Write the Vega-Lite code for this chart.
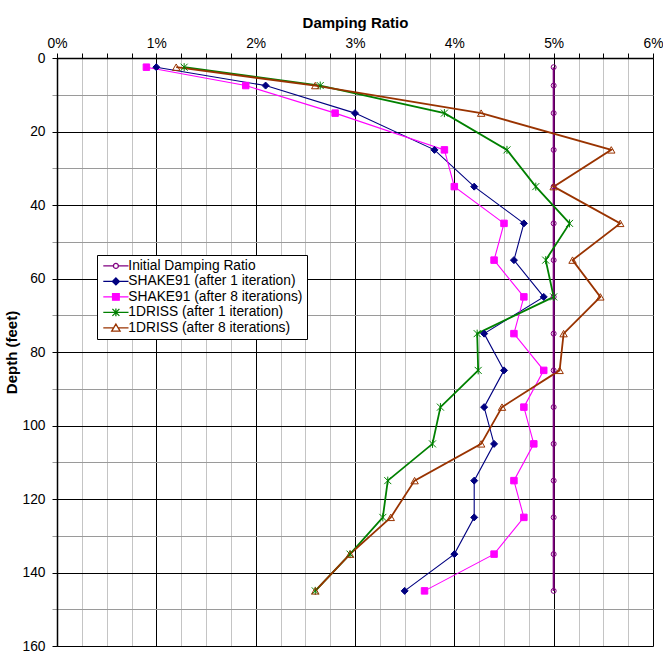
{
  "$schema": "https://vega.github.io/schema/vega-lite/v6.json",
  "width": 596,
  "height": 588,
  "autosize": {"type": "none"},
  "padding": {"left": 57, "top": 58, "right": 10, "bottom": 8},
  "background": "white",
  "config": {
    "font": "Liberation Sans",
    "view": {"stroke": null},
    "axis": {"labelFont": "Liberation Sans", "titleFont": "Liberation Sans", "labelColor": "black", "titleColor": "black"}
  },
  "data": {
    "values": [
      {"series": "Initial Damping Ratio", "depth": 2.5, "ratio": 5},
      {"series": "Initial Damping Ratio", "depth": 7.5, "ratio": 5},
      {"series": "Initial Damping Ratio", "depth": 15, "ratio": 5},
      {"series": "Initial Damping Ratio", "depth": 25, "ratio": 5},
      {"series": "Initial Damping Ratio", "depth": 35, "ratio": 5},
      {"series": "Initial Damping Ratio", "depth": 45, "ratio": 5},
      {"series": "Initial Damping Ratio", "depth": 55, "ratio": 5},
      {"series": "Initial Damping Ratio", "depth": 65, "ratio": 5},
      {"series": "Initial Damping Ratio", "depth": 75, "ratio": 5},
      {"series": "Initial Damping Ratio", "depth": 85, "ratio": 5},
      {"series": "Initial Damping Ratio", "depth": 95, "ratio": 5},
      {"series": "Initial Damping Ratio", "depth": 105, "ratio": 5},
      {"series": "Initial Damping Ratio", "depth": 115, "ratio": 5},
      {"series": "Initial Damping Ratio", "depth": 125, "ratio": 5},
      {"series": "Initial Damping Ratio", "depth": 135, "ratio": 5},
      {"series": "Initial Damping Ratio", "depth": 145, "ratio": 5},
      {"series": "SHAKE91 (after 1 iteration)", "depth": 2.5, "ratio": 1.0},
      {"series": "SHAKE91 (after 1 iteration)", "depth": 7.5, "ratio": 2.1},
      {"series": "SHAKE91 (after 1 iteration)", "depth": 15, "ratio": 3.0},
      {"series": "SHAKE91 (after 1 iteration)", "depth": 25, "ratio": 3.8},
      {"series": "SHAKE91 (after 1 iteration)", "depth": 35, "ratio": 4.2},
      {"series": "SHAKE91 (after 1 iteration)", "depth": 45, "ratio": 4.7},
      {"series": "SHAKE91 (after 1 iteration)", "depth": 55, "ratio": 4.6},
      {"series": "SHAKE91 (after 1 iteration)", "depth": 65, "ratio": 4.9},
      {"series": "SHAKE91 (after 1 iteration)", "depth": 75, "ratio": 4.3},
      {"series": "SHAKE91 (after 1 iteration)", "depth": 85, "ratio": 4.5},
      {"series": "SHAKE91 (after 1 iteration)", "depth": 95, "ratio": 4.3},
      {"series": "SHAKE91 (after 1 iteration)", "depth": 105, "ratio": 4.4},
      {"series": "SHAKE91 (after 1 iteration)", "depth": 115, "ratio": 4.2},
      {"series": "SHAKE91 (after 1 iteration)", "depth": 125, "ratio": 4.2},
      {"series": "SHAKE91 (after 1 iteration)", "depth": 135, "ratio": 4.0},
      {"series": "SHAKE91 (after 1 iteration)", "depth": 145, "ratio": 3.5},
      {"series": "SHAKE91 (after 8 iterations)", "depth": 2.5, "ratio": 0.9},
      {"series": "SHAKE91 (after 8 iterations)", "depth": 7.5, "ratio": 1.9},
      {"series": "SHAKE91 (after 8 iterations)", "depth": 15, "ratio": 2.8},
      {"series": "SHAKE91 (after 8 iterations)", "depth": 25, "ratio": 3.9},
      {"series": "SHAKE91 (after 8 iterations)", "depth": 35, "ratio": 4.0},
      {"series": "SHAKE91 (after 8 iterations)", "depth": 45, "ratio": 4.5},
      {"series": "SHAKE91 (after 8 iterations)", "depth": 55, "ratio": 4.4},
      {"series": "SHAKE91 (after 8 iterations)", "depth": 65, "ratio": 4.7},
      {"series": "SHAKE91 (after 8 iterations)", "depth": 75, "ratio": 4.6},
      {"series": "SHAKE91 (after 8 iterations)", "depth": 85, "ratio": 4.9},
      {"series": "SHAKE91 (after 8 iterations)", "depth": 95, "ratio": 4.7},
      {"series": "SHAKE91 (after 8 iterations)", "depth": 105, "ratio": 4.8},
      {"series": "SHAKE91 (after 8 iterations)", "depth": 115, "ratio": 4.6},
      {"series": "SHAKE91 (after 8 iterations)", "depth": 125, "ratio": 4.7},
      {"series": "SHAKE91 (after 8 iterations)", "depth": 135, "ratio": 4.4},
      {"series": "SHAKE91 (after 8 iterations)", "depth": 145, "ratio": 3.7},
      {"series": "1DRISS (after 1 iteration)", "depth": 2.5, "ratio": 1.28},
      {"series": "1DRISS (after 1 iteration)", "depth": 7.5, "ratio": 2.65},
      {"series": "1DRISS (after 1 iteration)", "depth": 15, "ratio": 3.9},
      {"series": "1DRISS (after 1 iteration)", "depth": 25, "ratio": 4.53},
      {"series": "1DRISS (after 1 iteration)", "depth": 35, "ratio": 4.82},
      {"series": "1DRISS (after 1 iteration)", "depth": 45, "ratio": 5.16},
      {"series": "1DRISS (after 1 iteration)", "depth": 55, "ratio": 4.92},
      {"series": "1DRISS (after 1 iteration)", "depth": 65, "ratio": 5.0},
      {"series": "1DRISS (after 1 iteration)", "depth": 75, "ratio": 4.23},
      {"series": "1DRISS (after 1 iteration)", "depth": 85, "ratio": 4.24},
      {"series": "1DRISS (after 1 iteration)", "depth": 95, "ratio": 3.86},
      {"series": "1DRISS (after 1 iteration)", "depth": 105, "ratio": 3.78},
      {"series": "1DRISS (after 1 iteration)", "depth": 115, "ratio": 3.33},
      {"series": "1DRISS (after 1 iteration)", "depth": 125, "ratio": 3.28},
      {"series": "1DRISS (after 1 iteration)", "depth": 135, "ratio": 2.95},
      {"series": "1DRISS (after 1 iteration)", "depth": 145, "ratio": 2.6},
      {"series": "1DRISS (after 8 iterations)", "depth": 2.5, "ratio": 1.2},
      {"series": "1DRISS (after 8 iterations)", "depth": 7.5, "ratio": 2.6},
      {"series": "1DRISS (after 8 iterations)", "depth": 15, "ratio": 4.27},
      {"series": "1DRISS (after 8 iterations)", "depth": 25, "ratio": 5.58},
      {"series": "1DRISS (after 8 iterations)", "depth": 35, "ratio": 5.0},
      {"series": "1DRISS (after 8 iterations)", "depth": 45, "ratio": 5.67},
      {"series": "1DRISS (after 8 iterations)", "depth": 55, "ratio": 5.19},
      {"series": "1DRISS (after 8 iterations)", "depth": 65, "ratio": 5.47},
      {"series": "1DRISS (after 8 iterations)", "depth": 75, "ratio": 5.1},
      {"series": "1DRISS (after 8 iterations)", "depth": 85, "ratio": 5.06},
      {"series": "1DRISS (after 8 iterations)", "depth": 95, "ratio": 4.48},
      {"series": "1DRISS (after 8 iterations)", "depth": 105, "ratio": 4.27},
      {"series": "1DRISS (after 8 iterations)", "depth": 115, "ratio": 3.6},
      {"series": "1DRISS (after 8 iterations)", "depth": 125, "ratio": 3.36},
      {"series": "1DRISS (after 8 iterations)", "depth": 135, "ratio": 2.95},
      {"series": "1DRISS (after 8 iterations)", "depth": 145, "ratio": 2.6}
    ]
  },
  "encoding": {
    "x": {
      "field": "ratio",
      "type": "quantitative",
      "scale": {"domain": [0, 6], "nice": false, "zero": false},
      "axis": {
        "orient": "top",
        "title": "Damping Ratio",
        "titleFontSize": 15,
        "titleFontWeight": "bold",
        "titlePadding": 6,
        "values": [0, 0.25, 0.5, 0.75, 1, 1.25, 1.5, 1.75, 2, 2.25, 2.5, 2.75, 3, 3.25, 3.5, 3.75, 4, 4.25, 4.5, 4.75, 5, 5.25, 5.5, 5.75, 6],
        "labelExpr": "datum.value % 1 === 0 ? datum.value + '%' : ''",
        "labelFontSize": 13.8,
        "labelPadding": 3,
        "labelFlush": false,
        "labelOverlap": false,
        "tickSize": 5,
        "tickColor": "black",
        "domainColor": "black",
        "domainWidth": 1.5,
        "gridColor": {"condition": {"test": "datum.value % 1 === 0", "value": "#000000"}, "value": "#c4c4c4"},
        "gridWidth": 1,
        "gridOpacity": 1
      }
    },
    "y": {
      "field": "depth",
      "type": "quantitative",
      "scale": {"domain": [0, 160], "reverse": true, "nice": false, "zero": false},
      "axis": {
        "title": "Depth (feet)",
        "titleFontSize": 15,
        "titleFontWeight": "bold",
        "titlePadding": 2,
        "values": [0, 10, 20, 30, 40, 50, 60, 70, 80, 90, 100, 110, 120, 130, 140, 150, 160],
        "labelExpr": "datum.value % 20 === 0 ? datum.value : ''",
        "labelFontSize": 13.8,
        "labelPadding": 7,
        "labelFlush": false,
        "labelOverlap": false,
        "tickSize": 5,
        "tickColor": {"condition": {"test": "datum.value % 20 === 0", "value": "#000000"}, "value": "#999999"},
        "domainColor": "black",
        "domainWidth": 1.5,
        "gridColor": {"condition": {"test": "datum.value % 20 === 0", "value": "#000000"}, "value": "#9a9a9a"},
        "gridWidth": 1,
        "gridOpacity": 1
      }
    }
  },
  "resolve": {"scale": {"color": "independent", "fill": "independent", "shape": "independent", "size": "independent", "strokeWidth": "independent"}},
  "layer": [
    {
      "mark": {"type": "line", "interpolate": "linear"},
      "encoding": {
        "color": {
          "field": "series",
          "type": "nominal",
          "scale": {
            "domain": ["Initial Damping Ratio", "SHAKE91 (after 1 iteration)", "SHAKE91 (after 8 iterations)", "1DRISS (after 1 iteration)", "1DRISS (after 8 iterations)"],
            "range": ["#800080", "#000080", "#FF00FF", "#008000", "#993300"]
          },
          "legend": null
        },
        "strokeWidth": {
          "field": "series",
          "type": "nominal",
          "scale": {
            "type": "ordinal",
            "domain": ["Initial Damping Ratio", "SHAKE91 (after 1 iteration)", "SHAKE91 (after 8 iterations)", "1DRISS (after 1 iteration)", "1DRISS (after 8 iterations)"],
            "range": [2, 1.1, 1.1, 1.8, 1.8]
          },
          "legend": null
        },
        "order": {"field": "depth", "type": "quantitative"}
      }
    },
    {
      "mark": {"type": "point", "filled": false, "opacity": 1, "strokeWidth": 1},
      "encoding": {
        "color": {
          "field": "series",
          "type": "nominal",
          "scale": {
            "domain": ["Initial Damping Ratio", "SHAKE91 (after 1 iteration)", "SHAKE91 (after 8 iterations)", "1DRISS (after 1 iteration)", "1DRISS (after 8 iterations)"],
            "range": ["#800080", "#000080", "#FF00FF", "#008000", "#993300"]
          },
          "legend": null
        },
        "fill": {
          "field": "series",
          "type": "nominal",
          "scale": {
            "domain": ["Initial Damping Ratio", "SHAKE91 (after 1 iteration)", "SHAKE91 (after 8 iterations)", "1DRISS (after 1 iteration)", "1DRISS (after 8 iterations)"],
            "range": ["transparent", "#000080", "#FF00FF", "transparent", "transparent"]
          },
          "legend": null
        },
        "size": {
          "field": "series",
          "type": "nominal",
          "scale": {
            "type": "ordinal",
            "domain": ["Initial Damping Ratio", "SHAKE91 (after 1 iteration)", "SHAKE91 (after 8 iterations)", "1DRISS (after 1 iteration)", "1DRISS (after 8 iterations)"],
            "range": [25, 49, 42, 49, 55]
          },
          "legend": null
        },
        "shape": {
          "field": "series",
          "type": "nominal",
          "scale": {
            "domain": ["Initial Damping Ratio", "SHAKE91 (after 1 iteration)", "SHAKE91 (after 8 iterations)", "1DRISS (after 1 iteration)", "1DRISS (after 8 iterations)"],
            "range": ["circle", "diamond", "square", "M-1,-1L1,1M-1,1L1,-1M0,-1.15V1.15", "triangle-up"]
          },
          "legend": null
        }
      }
    },
    {
      "transform": [{"filter": "false"}],
      "mark": {"type": "point", "filled": false, "opacity": 1, "strokeWidth": 1.3},
      "encoding": {
        "color": {
          "field": "series",
          "type": "nominal",
          "scale": {
            "domain": ["Initial Damping Ratio", "SHAKE91 (after 1 iteration)", "SHAKE91 (after 8 iterations)", "1DRISS (after 1 iteration)", "1DRISS (after 8 iterations)"],
            "range": ["#800080", "#000080", "#FF00FF", "#008000", "#993300"]
          },
          "legend": {
            "title": null,
            "orient": "none",
            "legendX": 40,
            "legendY": 197,
            "strokeColor": "black",
            "fillColor": "white",
            "padding": 4,
            "labelFont": "Liberation Sans",
            "labelFontSize": 13.8,
            "labelColor": "black",
            "labelLimit": 400,
            "labelExpr": "datum.label + '\u00a0\u00a0\u00a0\u00a0\u00a0'",
            "symbolSize": 49,
            "symbolStrokeWidth": 1.3,
            "symbolOffset": 8,
            "labelOffset": 5.5,
            "rowPadding": 0.5
          }
        },
        "fill": {
          "field": "series",
          "type": "nominal",
          "scale": {
            "domain": ["Initial Damping Ratio", "SHAKE91 (after 1 iteration)", "SHAKE91 (after 8 iterations)", "1DRISS (after 1 iteration)", "1DRISS (after 8 iterations)"],
            "range": ["transparent", "#000080", "#FF00FF", "transparent", "transparent"]
          },
          "legend": {
            "title": null,
            "orient": "none",
            "legendX": 40,
            "legendY": 197
          }
        },
        "shape": {
          "field": "series",
          "type": "nominal",
          "scale": {
            "domain": ["Initial Damping Ratio", "SHAKE91 (after 1 iteration)", "SHAKE91 (after 8 iterations)", "1DRISS (after 1 iteration)", "1DRISS (after 8 iterations)"],
            "range": ["M-3.6,0H-0.71M0.71,0H3.6M-0.71,0A0.71,0.71,0,1,0,0.71,0A0.71,0.71,0,1,0,-0.71,0Z", "M-3.6,0H3.6M0,-1L1,0L0,1L-1,0Z", "M-3.6,0H3.6M-0.95,-0.95H0.95V0.95H-0.95Z", "M-3.6,0H3.6M-1,-1L1,1M-1,1L1,-1M0,-1.1V1.1", "M-3.6,0H-0.65M0.65,0H3.6M0,-1.1L1.2,0.9L-1.2,0.9Z"]
          },
          "legend": {
            "title": null,
            "orient": "none",
            "legendX": 40,
            "legendY": 197
          }
        }
      }
    }
  ]
}
